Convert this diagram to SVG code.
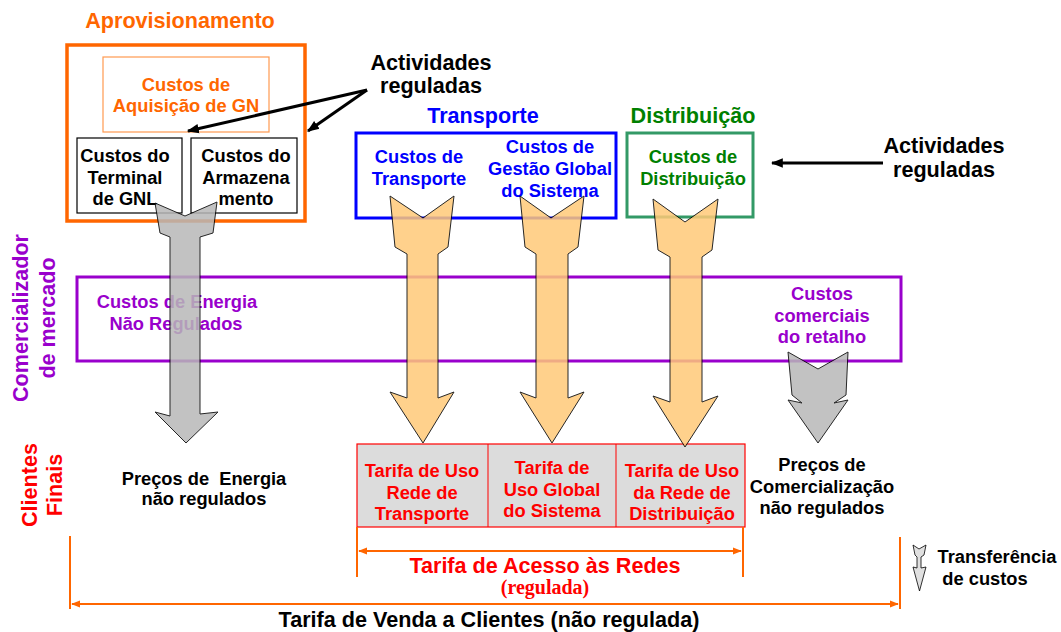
<svg xmlns="http://www.w3.org/2000/svg" width="1061" height="632" viewBox="0 0 1061 632">
<defs>
<marker id="ah" viewBox="0 0 10 10" refX="9" refY="5" markerWidth="4" markerHeight="4" orient="auto-start-reverse" markerUnits="strokeWidth"><path d="M0,1 L10,5 L0,9 Z" fill="#000"/></marker>
<marker id="oh" viewBox="0 0 10 10" refX="9" refY="5" markerWidth="4.5" markerHeight="4.5" orient="auto-start-reverse" markerUnits="strokeWidth"><path d="M0,1 L10,5 L0,9 Z" fill="#ff6600"/></marker>
<style>
text{font-family:"Liberation Sans",Arial,sans-serif;font-weight:bold;text-anchor:middle}
.t18{font-size:18.3px}
.t21{font-size:21.6px}
.or{fill:#ff6600}
.bl{fill:#0000ff}
.gr{fill:#008000}
.pu{fill:#9900cc}
.rd{fill:#ff0000}
.bk{fill:#000}
.box{fill:none}
.blk{fill:#ffc978;stroke:#000;stroke-width:1;opacity:0.85}
.gry{fill:#b8b8b8;stroke:#000;stroke-width:1;opacity:0.85}
.dim{stroke:#ff6600;stroke-width:2;fill:none}
.ptr{stroke:#000;stroke-width:3;fill:none}
</style>
</defs>
<rect width="1061" height="632" fill="#fff"/>

<g id="aprovisionamento">
<text class="t21 or" x="180" y="28">Aprovisionamento</text>
<rect class="box" x="67" y="45" width="238" height="176" stroke="#ff6600" stroke-width="3.5"/>
</g>
<g id="aquisicao">
<rect class="box" x="103" y="57" width="166" height="75" stroke="#ff9a50" stroke-width="1.2"/>
<text class="t18 or" x="186" y="91">Custos de</text>
<text class="t18 or" x="186" y="112">Aquisição de GN</text>
</g>
<g id="terminal">
<rect class="box" x="77" y="138" width="105" height="75" stroke="#000" stroke-width="1.2"/>
<text class="t18 bk" x="125" y="162">Custos do</text>
<text class="t18 bk" x="125" y="184">Terminal</text>
<text class="t18 bk" x="125" y="205">de GNL</text>
</g>
<g id="armazenamento">
<rect class="box" x="191" y="138" width="106" height="75" stroke="#000" stroke-width="1.2"/>
<text class="t18 bk" x="246" y="162">Custos do</text>
<text class="t18 bk" x="246" y="184">Armazena</text>
<text class="t18 bk" x="246" y="205">mento</text>
</g>
<g id="actividades1">
<text class="t21 bk" x="431" y="70">Actividades</text>
<text class="t21 bk" x="431" y="93">reguladas</text>
</g>
<g id="transporte">
<text class="t21 bl" x="483" y="123">Transporte</text>
<rect class="box" x="356" y="133" width="260" height="85" stroke="#0000ff" stroke-width="3"/>
<text class="t18 bl" x="419" y="163">Custos de</text>
<text class="t18 bl" x="419" y="185">Transporte</text>
<text class="t18 bl" x="550" y="153">Custos de</text>
<text class="t18 bl" x="550" y="175">Gestão Global</text>
<text class="t18 bl" x="550" y="197">do Sistema</text>
</g>
<g id="distribuicao">
<text class="t21 gr" x="693" y="123">Distribuição</text>
<rect class="box" x="627" y="133" width="126" height="84" stroke="#339966" stroke-width="3"/>
<text class="t18 gr" x="693" y="163">Custos de</text>
<text class="t18 gr" x="693" y="185">Distribuição</text>
</g>
<g id="actividades2">
<text class="t21 bk" x="944" y="153">Actividades</text>
<text class="t21 bk" x="944" y="177">reguladas</text>
</g>
<g id="comercializador">
<text class="t21 pu" transform="translate(28,318) rotate(-90)">Comercializador</text>
<text class="t21 pu" transform="translate(55,318) rotate(-90)">de mercado</text>
<rect class="box" x="77" y="277" width="824" height="84" stroke="#9900cc" stroke-width="3"/>
<text class="t18 pu" x="177" y="308">Custos de Energia</text>
<text class="t18 pu" x="176" y="330">Não Regulados</text>
<text class="t18 pu" x="822" y="300">Custos</text>
<text class="t18 pu" x="822" y="322">comerciais</text>
<text class="t18 pu" x="822" y="343">do retalho</text>
</g>
<g id="clientes">
<text class="t21 rd" transform="translate(37,485) rotate(-90)">Clientes</text>
<text class="t21 rd" transform="translate(62,485) rotate(-90)">Finais</text>
</g>
<g id="precos-energia">
<text class="t18 bk" x="204" y="485" xml:space="preserve">Preços de  Energia</text>
<text class="t18 bk" x="204" y="505">não regulados</text>
</g>
<g id="tarifas">
<rect x="357" y="444" width="388" height="83" fill="#dcdcdc" stroke="#ff0000" stroke-width="1.2"/>
<line x1="488" y1="444" x2="488" y2="527" stroke="#ff0000" stroke-width="1"/>
<line x1="616" y1="444" x2="616" y2="527" stroke="#ff0000" stroke-width="1"/>
<text class="t18 rd" x="422" y="477">Tarifa de Uso</text>
<text class="t18 rd" x="422" y="499">Rede de</text>
<text class="t18 rd" x="422" y="520">Transporte</text>
<text class="t18 rd" x="552" y="474">Tarifa de</text>
<text class="t18 rd" x="552" y="496">Uso Global</text>
<text class="t18 rd" x="552" y="517">do Sistema</text>
<text class="t18 rd" x="682" y="477">Tarifa de Uso</text>
<text class="t18 rd" x="682" y="499">da Rede de</text>
<text class="t18 rd" x="682" y="520">Distribuição</text>
</g>
<g id="precos-comercializacao">
<text class="t18 bk" x="822" y="471">Preços de</text>
<text class="t18 bk" x="822" y="493">Comercialização</text>
<text class="t18 bk" x="822" y="514">não regulados</text>
</g>
<g id="legenda">
<path d="M913,545 L919,549 L926,545 L924,555 L921,557 L921,568 L926,567 L919.5,591 L913,567 L917,568 L917,557 L915,555 Z" fill="#e0e0e0" stroke="#000" stroke-width="0.8"/>
<text class="t18 bk" x="997" y="563">Transferência</text>
<text class="t18 bk" x="985" y="585">de custos</text>
</g>
<g id="acesso-label">
<text class="t21 rd" x="545" y="573">Tarifa de Acesso às Redes</text>
<text x="545" y="594" style="font-family:'Liberation Serif','Times New Roman',serif;font-size:20px;fill:#ff0000">(regulada)</text>
</g>
<g id="venda-label">
<text class="t21 bk" x="489" y="627">Tarifa de Venda a Clientes (não regulada)</text>
</g>

<g id="connectors">
<line class="ptr" x1="367" y1="90" x2="188" y2="131" marker-end="url(#ah)"/>
<line class="ptr" x1="367" y1="90" x2="308" y2="131" marker-end="url(#ah)"/>
<line class="ptr" x1="883" y1="163" x2="772" y2="163" marker-end="url(#ah)"/>
<path class="gry" d="M155,203 L185,216 L217,202 L213,233 L200,237 L200,414 L218,412 L186,443 L155,412 L170,416 L170,237 L160,233 Z"/>
<path class="blk" d="M390,196 L423,218 L454,196 L448,247 L438,254 L438,398 L454,392 L423,443 L390,392 L407,398 L407,254 L395,247 Z"/>
<path class="blk" d="M520,196 L551,218 L584,196 L578,247 L568,254 L568,398 L584,392 L552,443 L520,392 L536,398 L536,254 L525,247 Z"/>
<path class="blk" d="M653,199 L685,222 L718,199 L712,250 L702,257 L702,402 L718,396 L685,447 L653,396 L670,402 L670,257 L658,250 Z"/>
<path class="gry" d="M788,352 L818,369 L848,352 L846,395 L834,403 L848,400 L818,443 L788,400 L802,403 L792,395 Z"/>
<line class="dim" x1="357" y1="527" x2="357" y2="577"/>
<line class="dim" x1="743" y1="527" x2="743" y2="577"/>
<line class="dim" x1="359" y1="551" x2="741" y2="551" marker-start="url(#oh)" marker-end="url(#oh)"/>
<line class="dim" x1="70" y1="536" x2="70" y2="609"/>
<line class="dim" x1="900" y1="537" x2="900" y2="609"/>
<line class="dim" x1="72" y1="604" x2="898" y2="604" marker-start="url(#oh)" marker-end="url(#oh)"/>
</g>
</svg>
